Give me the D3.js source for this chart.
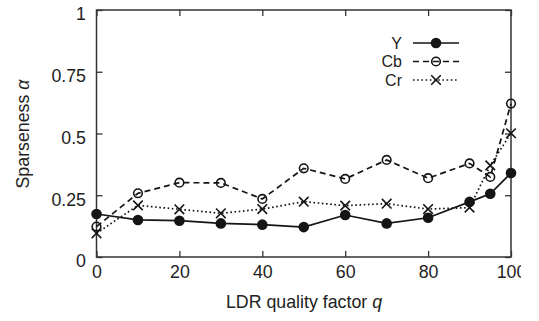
<!DOCTYPE html>
<html>
<head>
<meta charset="utf-8">
<script src="https://cdn.jsdelivr.net/npm/d3@7"></script>
<style>
  html, body { margin: 0; padding: 0; background: #fff; }
  svg { display: block; }
  text { font-family: "Liberation Sans", Arial, Helvetica, sans-serif; fill: #222; }
</style>
</head>
<body>
<svg id="chart" width="539" height="321"></svg>
<script>
const qualities = [0, 10, 20, 30, 40, 50, 60, 70, 80, 90, 95, 100];
const yValues  = [0.174, 0.150, 0.147, 0.136, 0.131, 0.121, 0.170, 0.136, 0.159, 0.223, 0.256, 0.340];
const cbValues = [0.123, 0.258, 0.301, 0.300, 0.235, 0.359, 0.316, 0.393, 0.319, 0.379, 0.324, 0.621];
const crValues = [0.096, 0.209, 0.193, 0.177, 0.194, 0.224, 0.208, 0.216, 0.194, 0.200, 0.371, 0.501];
const seriesNames = ["Y", "Cb", "Cr"];
const xTicks = [0, 20, 40, 60, 80, 100];
const yTicks = [0, 0.25, 0.5, 0.75, 1];
const yTickLabels = ["0", "0.25", "0.5", "0.75", "1"];

const svg = d3.select("#chart");
const m = { left: 96.5, right: 511, top: 10, bottom: 257 };
const x = d3.scaleLinear().domain([0, 100]).range([m.left, m.right]);
const y = d3.scaleLinear().domain([0, 1]).range([m.bottom, m.top]);
const ink = "#151515";
const fontSize = 17.8;
const legendFontSize = 16;

// clip for the right edge (reference image is cut at ~521px)
svg.append("defs").append("clipPath").attr("id", "pageclip")
  .append("rect").attr("x", 0).attr("y", 0).attr("width", 521).attr("height", 321);

const root = svg.append("g").attr("clip-path", "url(#pageclip)");

// axes
const xAxis = root.append("g").attr("transform", `translate(0,${m.bottom})`)
  .call(d3.axisBottom(x).tickValues(xTicks).tickFormat(d3.format("d")).tickSize(-6).tickPadding(8));
const xAxisTop = root.append("g").attr("transform", `translate(0,${m.top})`)
  .call(d3.axisTop(x).tickValues(xTicks).tickSize(-6).tickFormat(""));
const yAxis = root.append("g").attr("transform", `translate(${m.left},0)`)
  .call(d3.axisLeft(y).tickValues(yTicks).tickFormat((d, i) => yTickLabels[i]).tickSize(-6).tickPadding(10.5));
const yAxisRight = root.append("g").attr("transform", `translate(${m.right},0)`)
  .call(d3.axisRight(y).tickValues(yTicks).tickSize(-6).tickFormat(""));

[xAxis, xAxisTop, yAxis, yAxisRight].forEach(g => {
  g.select(".domain").remove();
  g.selectAll(".tick line").attr("stroke", "#333").attr("stroke-width", 1.3);
  g.selectAll("text").attr("font-size", fontSize).attr("font-family", null).attr("fill", "#222");
});
yAxis.selectAll(".tick text").attr("dy", "0.55em");

// frame
root.append("rect")
  .attr("x", m.left).attr("y", m.top)
  .attr("width", m.right - m.left).attr("height", m.bottom - m.top)
  .attr("fill", "none").attr("stroke", "#333").attr("stroke-width", 1.5);

// axis titles
const xt = root.append("text").attr("x", 304).attr("y", 308).attr("text-anchor", "middle")
  .attr("font-size", fontSize);
xt.append("tspan").text("LDR quality factor ");
xt.append("tspan").attr("font-style", "italic").text("q");

const yt = root.append("text")
  .attr("transform", "translate(28.5,134) rotate(-90)")
  .attr("text-anchor", "middle").attr("font-size", fontSize);
yt.append("tspan").text("Sparseness ");
yt.append("tspan").attr("font-style", "italic").text("α");

// series
const series = [
  { name: seriesNames[0], values: yValues,  dash: null,    marker: "filled" },
  { name: seriesNames[1], values: cbValues, dash: "6,4",   marker: "open" },
  { name: seriesNames[2], values: crValues, dash: "1.6,2.6", marker: "cross" }
];

const line = d3.line().x(d => x(d[0])).y(d => y(d[1]));

function drawMarker(g, type, cx, cy) {
  if (type === "filled") {
    g.append("circle").attr("cx", cx).attr("cy", cy).attr("r", 5.3).attr("fill", ink);
  } else if (type === "open") {
    g.append("circle").attr("cx", cx).attr("cy", cy).attr("r", 4.3)
      .attr("fill", "none").attr("stroke", ink).attr("stroke-width", 1.6);
  } else {
    const s = 4.8;
    g.append("path").attr("d", `M${cx - s},${cy - s}L${cx + s},${cy + s}M${cx - s},${cy + s}L${cx + s},${cy - s}`)
      .attr("stroke", ink).attr("stroke-width", 1.6).attr("fill", "none");
  }
}

const plot = svg.append("g");
series.forEach(s => {
  const pts = qualities.map((q, i) => [q, s.values[i]]);
  plot.append("path").datum(pts).attr("d", line)
    .attr("fill", "none").attr("stroke", ink).attr("stroke-width", 1.7)
    .attr("stroke-dasharray", s.dash);
  const mg = plot.append("g");
  pts.forEach(p => drawMarker(mg, s.marker, x(p[0]), y(p[1])));
});

// legend
const legend = svg.append("g");
const legendY = [43, 61.5, 80];
series.forEach((s, i) => {
  const ly = legendY[i];
  legend.append("text").attr("x", 402).attr("y", ly).attr("dy", "0.35em")
    .attr("text-anchor", "end").attr("font-size", legendFontSize).text(s.name);
  legend.append("line").attr("x1", 413).attr("x2", 459).attr("y1", ly).attr("y2", ly)
    .attr("stroke", ink).attr("stroke-width", 1.7).attr("stroke-dasharray", s.dash);
  drawMarker(legend, s.marker, 436, ly);
});
</script>
</body>
</html>
